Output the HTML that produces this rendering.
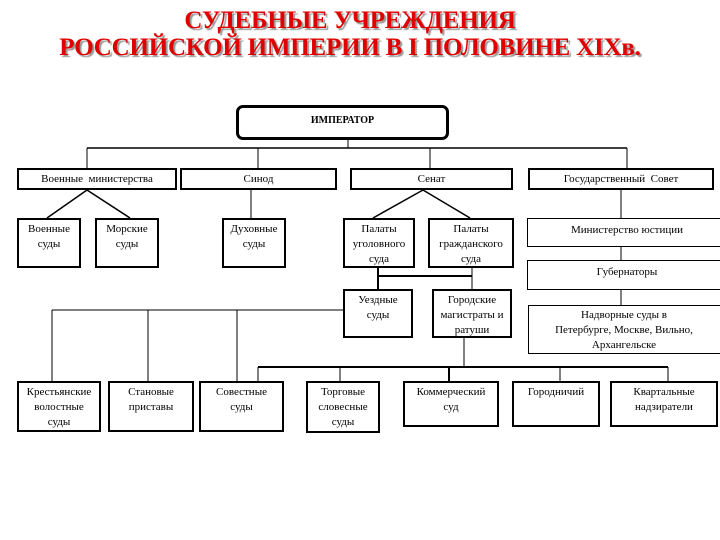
<!DOCTYPE html>
<html><head><meta charset="utf-8"><style>
body{margin:0;width:720px;height:540px;background:#fff;position:relative;overflow:hidden;font-family:"Liberation Serif",serif;}
.t{position:absolute;left:0;width:700px;text-align:center;color:#e00000;font-weight:bold;font-size:25px;text-shadow:2px 2px 1px #999;letter-spacing:-0.2px}
.b{position:absolute;box-sizing:border-box;border:2px solid #000;background:#fff;text-align:center;font-size:11px;line-height:15px;color:#000;padding-top:2px;white-space:nowrap}
.n{border-width:1px}
svg{position:absolute;left:0;top:0}
</style></head><body>
<div class="t" style="top:7px">СУДЕБНЫЕ УЧРЕЖДЕНИЯ</div>
<div class="t" style="top:34px">РОССИЙСКОЙ ИМПЕРИИ В I ПОЛОВИНЕ XIXв.</div>
<svg width="720" height="540" stroke="#000" fill="none">
<line x1="348" y1="140" x2="348" y2="148" stroke-width="1"/>
<line x1="87" y1="148" x2="627" y2="148" stroke-width="1.5"/>
<line x1="87" y1="148" x2="87" y2="168"/>
<line x1="258" y1="148" x2="258" y2="168"/>
<line x1="430" y1="148" x2="430" y2="168"/>
<line x1="627" y1="148" x2="627" y2="168"/>
<line x1="87" y1="190" x2="47" y2="218" stroke-width="1.5"/>
<line x1="87" y1="190" x2="130" y2="218" stroke-width="1.5"/>
<line x1="251" y1="190" x2="251" y2="218"/>
<line x1="423" y1="190" x2="373" y2="218" stroke-width="1.5"/>
<line x1="423" y1="190" x2="470" y2="218" stroke-width="1.5"/>
<line x1="621" y1="190" x2="621" y2="218"/>
<line x1="621" y1="247" x2="621" y2="260"/>
<line x1="621" y1="290" x2="621" y2="305"/>
<line x1="378" y1="268" x2="378" y2="289" stroke-width="2"/>
<line x1="378" y1="276" x2="472" y2="276" stroke-width="2"/>
<line x1="472" y1="268" x2="472" y2="289"/>
<line x1="52" y1="310" x2="343" y2="310"/>
<line x1="52" y1="310" x2="52" y2="381"/>
<line x1="148" y1="310" x2="148" y2="381"/>
<line x1="237" y1="310" x2="237" y2="381"/>
<line x1="464" y1="338" x2="464" y2="367"/>
<line x1="258" y1="367" x2="668" y2="367" stroke-width="2"/>
<line x1="258" y1="367" x2="258" y2="381"/>
<line x1="340" y1="367" x2="340" y2="381"/>
<line x1="449" y1="367" x2="449" y2="381" stroke-width="2"/>
<line x1="560" y1="367" x2="560" y2="381"/>
<line x1="668" y1="367" x2="668" y2="381"/>
</svg>
<div class="b" style="left:236px;top:105px;width:213px;height:35px;border-width:3px;border-radius:7px;font-weight:bold;font-size:10px;padding-top:5px">ИМПЕРАТОР</div>
<div class="b" style="left:17px;top:168px;width:160px;height:22px">Военные&nbsp; министерства</div>
<div class="b" style="left:180px;top:168px;width:157px;height:22px">Синод</div>
<div class="b" style="left:350px;top:168px;width:163px;height:22px">Сенат</div>
<div class="b" style="left:528px;top:168px;width:186px;height:22px">Государственный&nbsp; Совет</div>
<div class="b" style="left:17px;top:218px;width:64px;height:50px">Военные<br>суды</div>
<div class="b" style="left:95px;top:218px;width:64px;height:50px">Морские<br>суды</div>
<div class="b" style="left:222px;top:218px;width:64px;height:50px">Духовные<br>суды</div>
<div class="b" style="left:343px;top:218px;width:72px;height:50px">Палаты<br>уголовного<br>суда</div>
<div class="b" style="left:428px;top:218px;width:86px;height:50px">Палаты<br>гражданского<br>суда</div>
<div class="b n" style="left:527px;top:218px;width:200px;height:29px;padding-top:4px">Министерство юстиции</div>
<div class="b n" style="left:527px;top:260px;width:200px;height:30px;padding-top:4px">Губернаторы</div>
<div class="b" style="left:343px;top:289px;width:70px;height:49px">Уездные<br>суды</div>
<div class="b" style="left:432px;top:289px;width:80px;height:49px">Городские<br>магистраты и<br>ратуши</div>
<div class="b n" style="left:528px;top:305px;width:199px;height:49px;padding-top:2px;padding-right:7px">Надворные суды в<br>Петербурге, Москве, Вильно,<br>Архангельске</div>
<div class="b" style="left:17px;top:381px;width:84px;height:51px">Крестьянские<br>волостные<br>суды</div>
<div class="b" style="left:108px;top:381px;width:86px;height:51px">Становые<br>приставы</div>
<div class="b" style="left:199px;top:381px;width:85px;height:51px">Совестные<br>суды</div>
<div class="b" style="left:306px;top:381px;width:74px;height:52px">Торговые<br>словесные<br>суды</div>
<div class="b" style="left:403px;top:381px;width:96px;height:46px">Коммерческий<br>суд</div>
<div class="b" style="left:512px;top:381px;width:88px;height:46px">Городничий</div>
<div class="b" style="left:610px;top:381px;width:108px;height:46px">Квартальные<br>надзиратели</div>
</body></html>
